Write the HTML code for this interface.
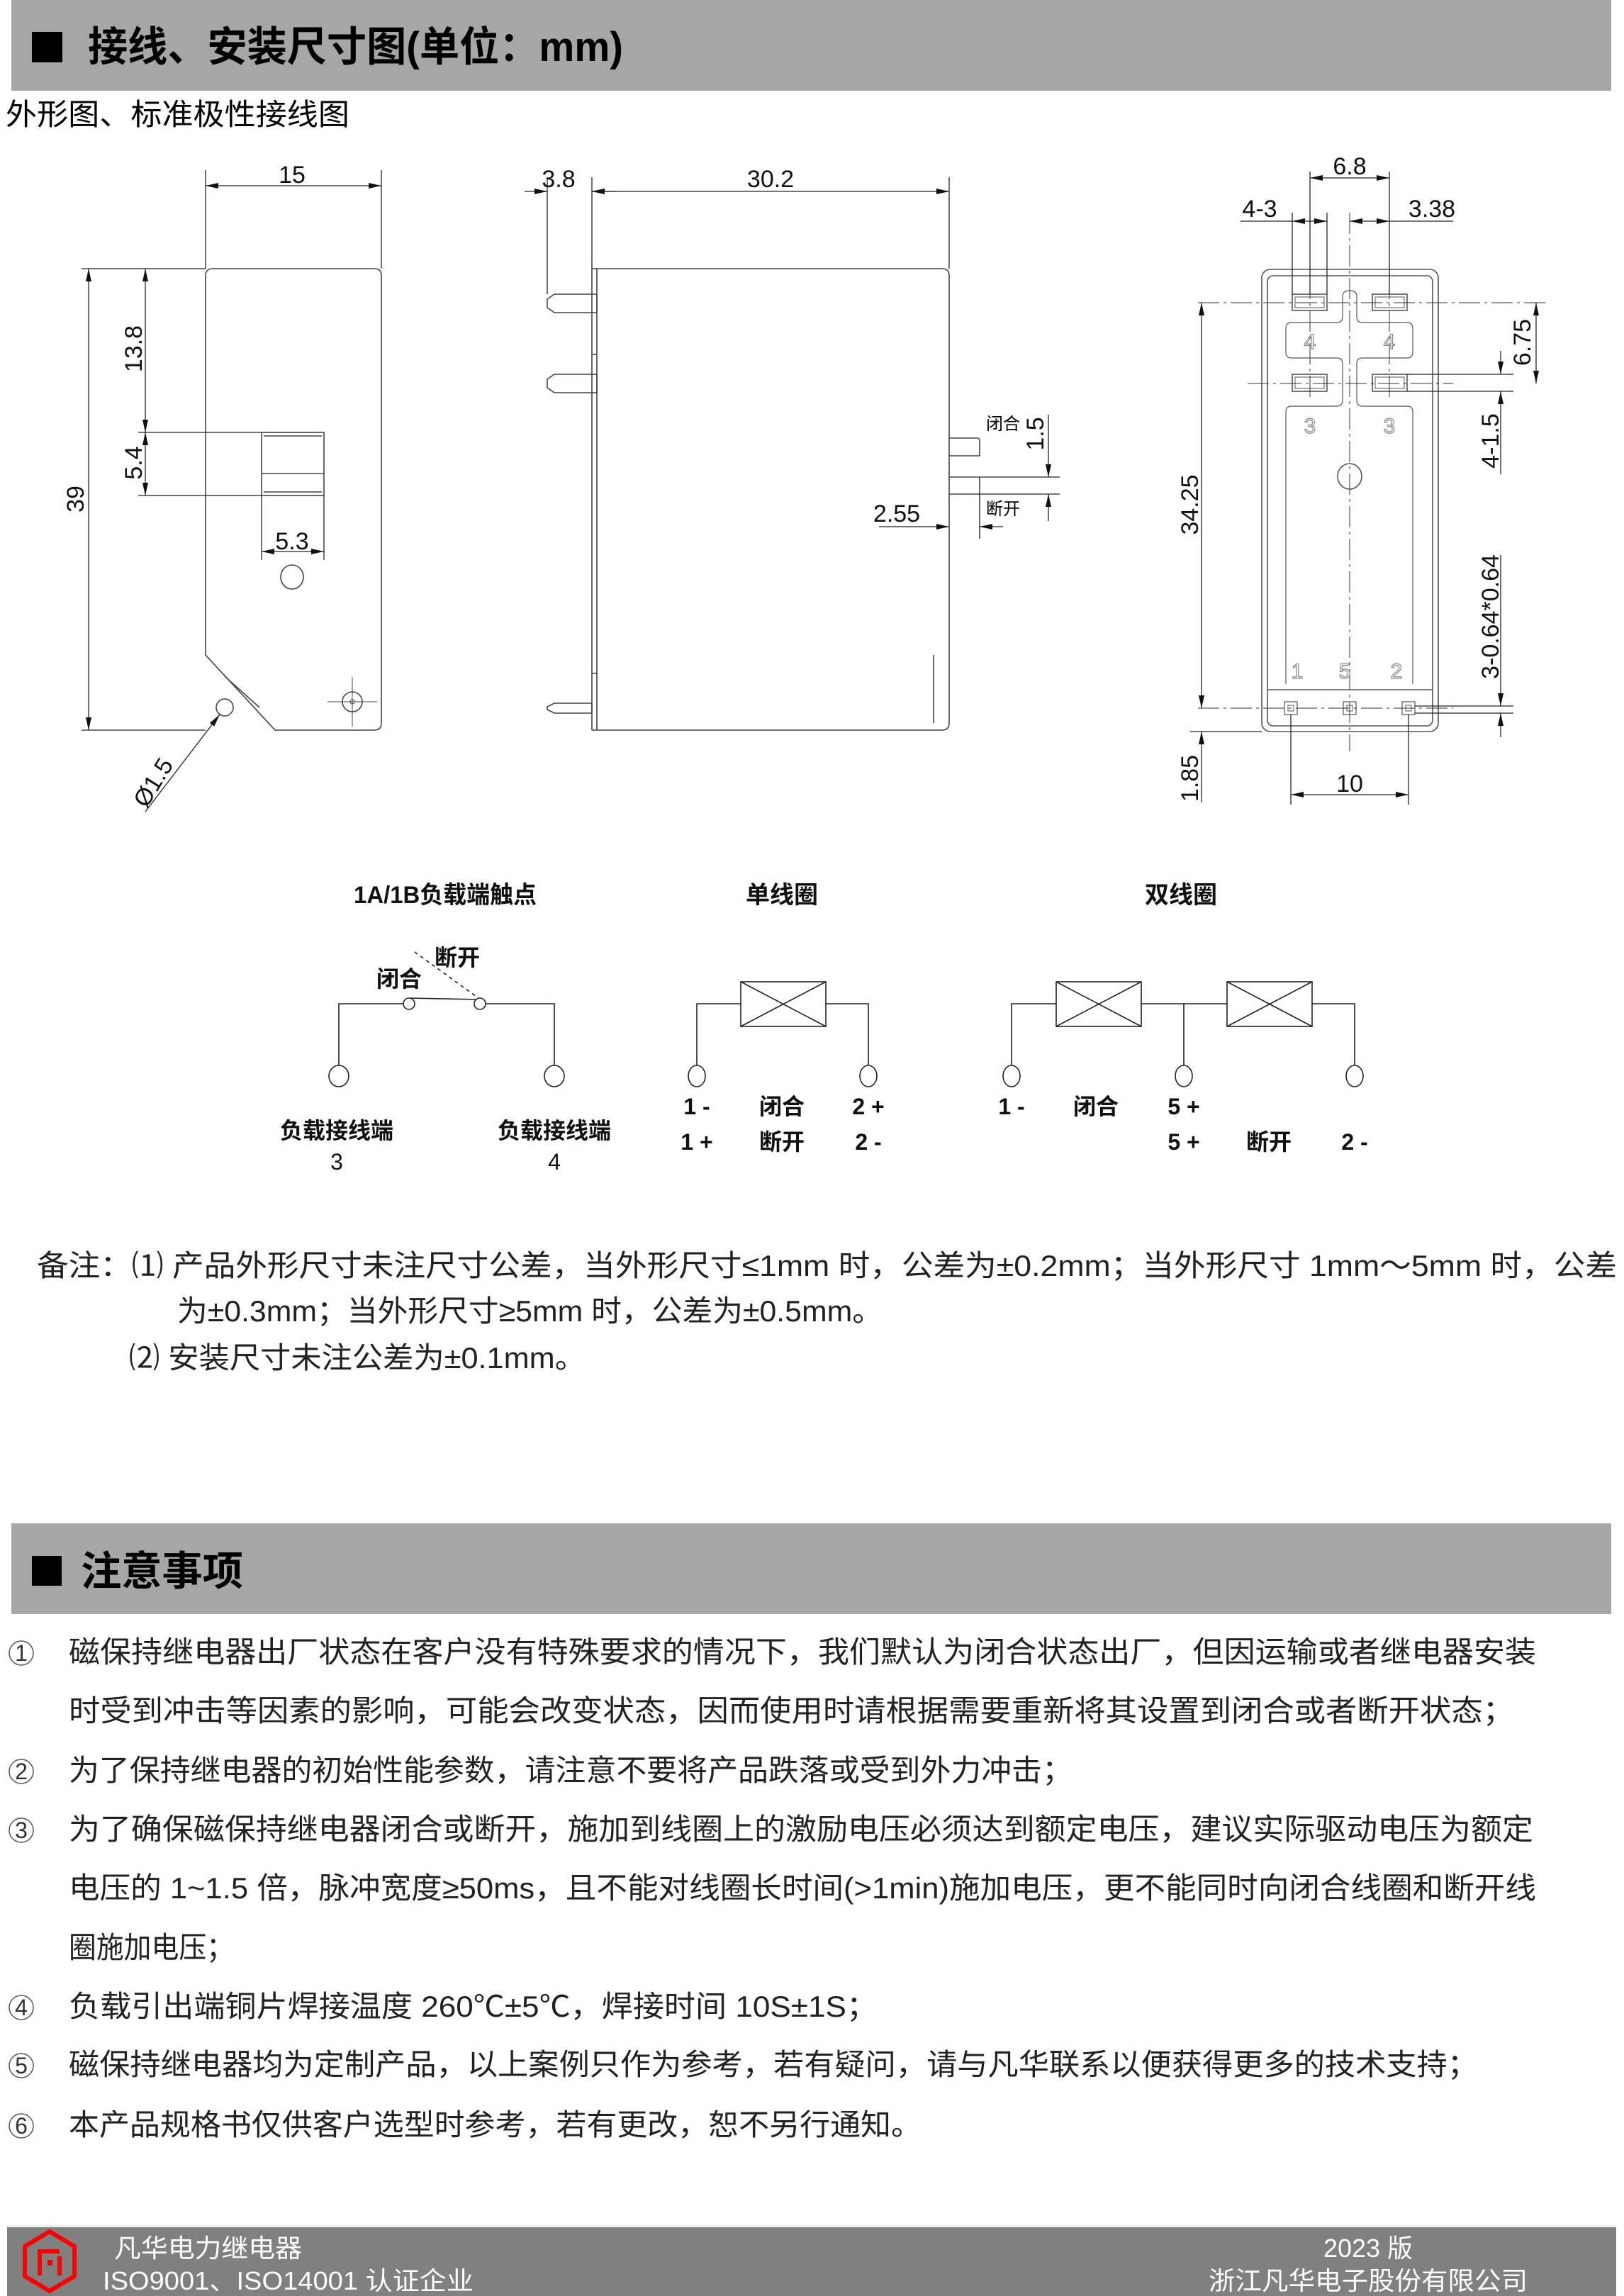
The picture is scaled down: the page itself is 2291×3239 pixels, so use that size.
<!DOCTYPE html>
<html><head><meta charset="utf-8">
<style>
html,body{margin:0;padding:0;background:#fff;}
svg{display:block;}
.cn{font-family:"Liberation Sans","Noto Sans CJK SC",sans-serif;}
.d{font-family:"Liberation Sans",sans-serif;font-size:34px;fill:#111;}
</style></head>
<body>
<svg width="2291" height="3239" viewBox="0 0 2291 3239" xmlns="http://www.w3.org/2000/svg">
<defs>
<marker id="a" viewBox="0 0 18 8" refX="18" refY="4" markerWidth="18" markerHeight="8" markerUnits="userSpaceOnUse" orient="auto-start-reverse"><path d="M0,0 L18,4 L0,8 z" fill="#111"/></marker>
</defs>

<!-- header 1 -->
<rect x="16" y="0" width="2257" height="128" fill="#a6a6a6"/>
<rect x="45" y="45" width="43" height="43" fill="#000"/>
<text x="124" y="86" class="cn" font-size="58" font-weight="bold" fill="#000" textLength="755" lengthAdjust="spacingAndGlyphs">接线、安装尺寸图(单位：mm)</text>
<text x="8" y="176" class="cn" font-size="42" fill="#000" textLength="485" lengthAdjust="spacingAndGlyphs">外形图、标准极性接线图</text>

<g stroke="#444" stroke-width="1.6" fill="none">
<!-- FRONT VIEW -->
<path d="M300,379 H528 Q538,379 538,389 V1020 Q538,1030 528,1030 H388 L290,924 V389 Q290,379 300,379 Z"/>
<line x1="317" y1="954" x2="366" y2="998"/>
<rect x="369" y="610" width="88" height="89"/>
<line x1="372" y1="615" x2="454" y2="615"/>
<line x1="369" y1="668" x2="457" y2="668"/>
<line x1="372" y1="694" x2="454" y2="694"/>
<ellipse cx="412" cy="814" rx="16" ry="17"/>
<circle cx="317" cy="998" r="12"/>
<circle cx="497" cy="990" r="14"/>
<line x1="462" y1="990" x2="532" y2="990" stroke-width="1"/>
<line x1="497" y1="955" x2="497" y2="1025" stroke-width="1"/>
<circle cx="497" cy="990" r="3" stroke-width="1"/>
</g>
<g stroke="#222" stroke-width="1.3" fill="none">
<line x1="290" y1="240" x2="290" y2="379"/><line x1="538" y1="240" x2="538" y2="379"/>
<line x1="290" y1="262" x2="538" y2="262" marker-start="url(#a)" marker-end="url(#a)"/>
<line x1="115" y1="379" x2="290" y2="379"/><line x1="115" y1="1030" x2="290" y2="1030"/>
<line x1="125" y1="379" x2="125" y2="1030" marker-start="url(#a)" marker-end="url(#a)"/>
<line x1="205" y1="379" x2="205" y2="610" marker-start="url(#a)" marker-end="url(#a)"/>
<line x1="195" y1="610" x2="369" y2="610"/><line x1="195" y1="699" x2="369" y2="699"/>
<line x1="205" y1="610" x2="205" y2="699" marker-start="url(#a)" marker-end="url(#a)"/>
<line x1="369" y1="699" x2="369" y2="790"/><line x1="457" y1="699" x2="457" y2="790"/>
<line x1="369" y1="778" x2="457" y2="778" marker-start="url(#a)" marker-end="url(#a)"/>
<line x1="205" y1="1145" x2="310" y2="1008" marker-end="url(#a)"/>
</g>
<text x="412" y="258" class="d" text-anchor="middle">15</text>
<text transform="translate(118,704) rotate(-90)" class="d" text-anchor="middle">39</text>
<text transform="translate(200,492) rotate(-90)" class="d" text-anchor="middle">13.8</text>
<text transform="translate(200,653) rotate(-90)" class="d" text-anchor="middle">5.4</text>
<text x="412" y="775" class="d" text-anchor="middle">5.3</text>
<text transform="translate(226,1110) rotate(-58)" class="d" text-anchor="middle">Ø1.5</text>

<!-- SIDE VIEW -->
<g stroke="#444" stroke-width="1.6" fill="none">
<path d="M842,379 H1329 Q1339,379 1339,389 V1020 Q1339,1030 1329,1030 H835"/>
<path d="M835,365 V1030"/>
<path d="M835,379 H842 V500 H835 M842,500 V1030 M835,950 H842"/>
<polygon points="782,415 842,415 842,441 782,441 772,434 772,422"/>
<polygon points="782,528 842,528 842,554 782,554 772,547 772,535"/>
<polygon points="782,992 835,992 835,1006 782,1006 772,1001 772,997"/>
<line x1="1317" y1="924" x2="1317" y2="1020"/>
<path d="M1339,618 H1378 Q1382,618 1382,622 V643 H1339"/>
<path d="M1339,673 H1382 V697 H1339 M1382,697 V760"/>
</g>
<g stroke="#222" stroke-width="1.3" fill="none">
<line x1="772" y1="250" x2="772" y2="415"/><line x1="835" y1="250" x2="835" y2="365"/><line x1="1339" y1="250" x2="1339" y2="379"/>
<line x1="740" y1="270" x2="772" y2="270" marker-end="url(#a)"/>
<line x1="870" y1="270" x2="835" y2="270" marker-end="url(#a)"/>
<line x1="835" y1="270" x2="1339" y2="270" marker-start="url(#a)" marker-end="url(#a)"/>
<line x1="1382" y1="673" x2="1495" y2="673"/><line x1="1382" y1="697" x2="1495" y2="697"/>
<line x1="1479" y1="585" x2="1479" y2="673" marker-end="url(#a)"/>
<line x1="1479" y1="735" x2="1479" y2="697" marker-end="url(#a)"/>
<line x1="1240" y1="743" x2="1339" y2="743" marker-end="url(#a)"/>
<line x1="1415" y1="743" x2="1382" y2="743" marker-end="url(#a)"/>
</g>
<text x="788" y="264" class="d" text-anchor="middle">3.8</text>
<text x="1087" y="264" class="d" text-anchor="middle">30.2</text>
<text x="1265" y="736" class="d" text-anchor="middle">2.55</text>
<text transform="translate(1472,612) rotate(-90)" class="d" text-anchor="middle">1.5</text>
<text x="1415" y="606" class="cn" font-size="24" text-anchor="middle">闭合</text>
<text x="1415" y="726" class="cn" font-size="24" text-anchor="middle">断开</text>

<!-- BOTTOM VIEW -->
<g stroke="#555" stroke-width="1.6" fill="none">
<rect x="1780" y="380" width="249" height="652" rx="12"/>
<rect x="1788" y="389" width="233" height="635" rx="8"/>
<rect x="1823" y="415" width="49" height="23"/><rect x="1827" y="419" width="41" height="15" stroke-width="1"/>
<rect x="1936" y="415" width="49" height="23"/><rect x="1940" y="419" width="41" height="15" stroke-width="1"/>
<rect x="1823" y="528" width="49" height="24"/><rect x="1827" y="532" width="41" height="16" stroke-width="1"/>
<rect x="1936" y="528" width="49" height="24"/><rect x="1940" y="532" width="41" height="16" stroke-width="1"/>
<path d="M1894,447 V418 Q1894,410 1904,410 Q1914,410 1914,418 V447 Q1914,455 1922,455 H1985 Q1993,455 1993,463 V497 Q1993,505 1985,505 H1922 Q1914,505 1914,513 V565 Q1914,573 1922,573 H1985 Q1993,573 1993,581 V965 M1814,965 V581 Q1814,573 1822,573 H1886 Q1894,573 1894,565 V513 Q1894,505 1886,505 H1822 Q1814,505 1814,497 V463 Q1814,455 1822,455 H1886 Q1894,455 1894,447" stroke-width="1.2"/>
<line x1="1788" y1="973" x2="2021" y2="973"/>
<ellipse cx="1904" cy="672" rx="17" ry="18"/>
<rect x="1812" y="990" width="18" height="18" stroke-width="1.2"/><rect x="1817" y="995" width="8" height="8" stroke-width="1"/>
<rect x="1895" y="990" width="18" height="18" stroke-width="1.2"/><rect x="1900" y="995" width="8" height="8" stroke-width="1"/>
<rect x="1978" y="990" width="18" height="18" stroke-width="1.2"/><rect x="1983" y="995" width="8" height="8" stroke-width="1"/>
</g>
<g stroke="#333" stroke-width="1" fill="none" stroke-dasharray="30,6,4,6">
<line x1="1904" y1="300" x2="1904" y2="1060"/>
<line x1="1848" y1="300" x2="1848" y2="560"/><line x1="1960" y1="300" x2="1960" y2="560"/>
<line x1="1690" y1="427" x2="2180" y2="427"/>
<line x1="1760" y1="541" x2="2050" y2="541"/>
<line x1="1690" y1="999" x2="2050" y2="999"/>
</g>
<g font-family="Liberation Sans,sans-serif" font-size="30" fill="none" stroke="#888" stroke-width="1.2" text-anchor="middle">
<text x="1848" y="492">4</text><text x="1960" y="492">4</text>
<text x="1848" y="611">3</text><text x="1960" y="611">3</text>
<text x="1830" y="957">1</text><text x="1897" y="957">5</text><text x="1970" y="957">2</text>
</g>
<g stroke="#222" stroke-width="1.3" fill="none">
<line x1="1848" y1="242" x2="1848" y2="415"/><line x1="1960" y1="242" x2="1960" y2="415"/>
<line x1="1823" y1="300" x2="1823" y2="415"/><line x1="1872" y1="300" x2="1872" y2="415"/>
<line x1="1848" y1="251" x2="1960" y2="251" marker-start="url(#a)" marker-end="url(#a)"/>
<line x1="1750" y1="312" x2="1823" y2="312"/>
<line x1="1823" y1="312" x2="1872" y2="312" marker-start="url(#a)" marker-end="url(#a)"/>
<line x1="1904" y1="312" x2="1960" y2="312" marker-start="url(#a)" marker-end="url(#a)"/>
<line x1="1960" y1="312" x2="2050" y2="312"/>
<line x1="1695" y1="427" x2="1695" y2="999" marker-start="url(#a)" marker-end="url(#a)"/>
<line x1="1679" y1="1032" x2="1780" y2="1032"/>
<line x1="1695" y1="1132" x2="1695" y2="1032" marker-end="url(#a)"/>
<line x1="1821" y1="1008" x2="1821" y2="1135"/><line x1="1987" y1="1008" x2="1987" y2="1135"/>
<line x1="1821" y1="1121" x2="1987" y2="1121" marker-start="url(#a)" marker-end="url(#a)"/>
<line x1="2167" y1="427" x2="2167" y2="541" marker-start="url(#a)" marker-end="url(#a)"/>
<line x1="1985" y1="528" x2="2135" y2="528"/><line x1="1985" y1="552" x2="2135" y2="552"/>
<line x1="2117" y1="495" x2="2117" y2="528" marker-end="url(#a)"/>
<line x1="2117" y1="669" x2="2117" y2="552" marker-end="url(#a)"/>
<line x1="1996" y1="996" x2="2135" y2="996"/><line x1="1996" y1="1006" x2="2135" y2="1006"/>
<line x1="2117" y1="783" x2="2117" y2="996" marker-end="url(#a)"/>
<line x1="2117" y1="1040" x2="2117" y2="1006" marker-end="url(#a)"/>
</g>
<text x="1904" y="246" class="d" text-anchor="middle">6.8</text>
<text x="1777" y="306" class="d" text-anchor="middle">4-3</text>
<text x="2020" y="306" class="d" text-anchor="middle">3.38</text>
<text transform="translate(1690,712) rotate(-90)" class="d" text-anchor="middle">34.25</text>
<text transform="translate(1690,1098) rotate(-90)" class="d" text-anchor="middle">1.85</text>
<text x="1904" y="1117" class="d" text-anchor="middle">10</text>
<text transform="translate(2159,483) rotate(-90)" class="d" text-anchor="middle">6.75</text>
<text transform="translate(2114,622) rotate(-90)" class="d" text-anchor="middle">4-1.5</text>
<text transform="translate(2114,870) rotate(-90)" class="d" text-anchor="middle">3-0.64*0.64</text>

<!-- SCHEMATICS -->
<g class="cn" font-size="34" font-weight="bold" fill="#111" text-anchor="middle">
<text x="628" y="1274" textLength="258" lengthAdjust="spacingAndGlyphs">1A/1B负载端触点</text>
<text x="1103" y="1274">单线圈</text>
<text x="1666" y="1274">双线圈</text>
</g>
<g stroke="#222" stroke-width="1.6" fill="#fff">
<polyline points="478,1503 478,1416 569,1416" fill="none"/>
<polyline points="685,1416 782,1416 782,1503" fill="none"/>
<line x1="577" y1="1408" x2="677" y2="1410"/>
<line x1="585" y1="1343" x2="675" y2="1408" stroke-dasharray="5,5"/>
<circle cx="577" cy="1416" r="8"/><circle cx="677" cy="1416" r="8"/>
<ellipse cx="478" cy="1518" rx="14" ry="15"/><ellipse cx="782" cy="1518" rx="14" ry="15"/>
<polyline points="983,1503 983,1416 1045,1416" fill="none"/>
<polyline points="1165,1416 1225,1416 1225,1503" fill="none"/>
<rect x="1045" y="1385" width="120" height="63"/>
<line x1="1045" y1="1385" x2="1165" y2="1448"/><line x1="1165" y1="1385" x2="1045" y2="1448"/>
<ellipse cx="983" cy="1518" rx="12" ry="15"/><ellipse cx="1225" cy="1518" rx="12" ry="15"/>
<polyline points="1427,1503 1427,1416 1490,1416" fill="none"/>
<line x1="1610" y1="1416" x2="1731" y2="1416"/>
<line x1="1670" y1="1416" x2="1670" y2="1503"/>
<polyline points="1851,1416 1911,1416 1911,1503" fill="none"/>
<rect x="1490" y="1385" width="120" height="63"/>
<line x1="1490" y1="1385" x2="1610" y2="1448"/><line x1="1610" y1="1385" x2="1490" y2="1448"/>
<rect x="1731" y="1385" width="120" height="63"/>
<line x1="1731" y1="1385" x2="1851" y2="1448"/><line x1="1851" y1="1385" x2="1731" y2="1448"/>
<ellipse cx="1427" cy="1518" rx="12" ry="15"/><ellipse cx="1670" cy="1518" rx="12" ry="15"/><ellipse cx="1911" cy="1518" rx="12" ry="15"/>
</g>
<g class="cn" font-size="32" font-weight="bold" fill="#111" text-anchor="middle">
<text x="645" y="1362">断开</text>
<text x="563" y="1392">闭合</text>
<text x="475" y="1606">负载接线端</text>
<text x="782" y="1606">负载接线端</text>
<text x="475" y="1650" font-weight="normal">3</text>
<text x="782" y="1650" font-weight="normal">4</text>
<text x="983" y="1572">1 -</text><text x="1103" y="1572">闭合</text><text x="1225" y="1572">2 +</text>
<text x="983" y="1622">1 +</text><text x="1103" y="1622">断开</text><text x="1225" y="1622">2 -</text>
<text x="1427" y="1572">1 -</text><text x="1546" y="1572">闭合</text><text x="1670" y="1572">5 +</text>
<text x="1670" y="1622">5 +</text><text x="1790" y="1622">断开</text><text x="1911" y="1622">2 -</text>
</g>

<!-- NOTES -->
<g class="cn" font-size="42" fill="#222">
<text x="52" y="1800" textLength="2229" lengthAdjust="spacingAndGlyphs">备注：⑴ 产品外形尺寸未注尺寸公差，当外形尺寸≤1mm 时，公差为±0.2mm；当外形尺寸 1mm～5mm 时，公差</text>
<text x="250" y="1864" textLength="995" lengthAdjust="spacingAndGlyphs">为±0.3mm；当外形尺寸≥5mm 时，公差为±0.5mm。</text>
<text x="182" y="1930" textLength="644" lengthAdjust="spacingAndGlyphs">⑵ 安装尺寸未注公差为±0.1mm。</text>
</g>

<!-- header 2 -->
<rect x="16" y="2149" width="2257" height="128" fill="#a6a6a6"/>
<rect x="45" y="2195" width="42" height="42" fill="#000"/>
<text x="114" y="2236" class="cn" font-size="57" font-weight="bold" fill="#000" textLength="229" lengthAdjust="spacingAndGlyphs">注意事项</text>

<g class="cn" font-size="42" fill="#222">
<g font-size="32" text-anchor="middle" fill="#333">
<circle cx="30" cy="2332" r="17" fill="none" stroke="#555" stroke-width="1.5"/><text x="30" y="2343">1</text>
<circle cx="30" cy="2499" r="17" fill="none" stroke="#555" stroke-width="1.5"/><text x="30" y="2510">2</text>
<circle cx="30" cy="2582" r="17" fill="none" stroke="#555" stroke-width="1.5"/><text x="30" y="2593">3</text>
<circle cx="30" cy="2832" r="17" fill="none" stroke="#555" stroke-width="1.5"/><text x="30" y="2843">4</text>
<circle cx="30" cy="2914" r="17" fill="none" stroke="#555" stroke-width="1.5"/><text x="30" y="2925">5</text>
<circle cx="30" cy="2999" r="17" fill="none" stroke="#555" stroke-width="1.5"/><text x="30" y="3010">6</text>
</g>
<text x="97" y="2345" textLength="2070" lengthAdjust="spacingAndGlyphs">磁保持继电器出厂状态在客户没有特殊要求的情况下，我们默认为闭合状态出厂，但因运输或者继电器安装</text>
<text x="97" y="2428" textLength="2039" lengthAdjust="spacingAndGlyphs">时受到冲击等因素的影响，可能会改变状态，因而使用时请根据需要重新将其设置到闭合或者断开状态；</text>
<text x="97" y="2512" textLength="1416" lengthAdjust="spacingAndGlyphs">为了保持继电器的初始性能参数，请注意不要将产品跌落或受到外力冲击；</text>
<text x="97" y="2595" textLength="2066" lengthAdjust="spacingAndGlyphs">为了确保磁保持继电器闭合或断开，施加到线圈上的激励电压必须达到额定电压，建议实际驱动电压为额定</text>
<text x="97" y="2678" textLength="2070" lengthAdjust="spacingAndGlyphs">电压的 1~1.5 倍，脉冲宽度≥50ms，且不能对线圈长时间(&gt;1min)施加电压，更不能同时向闭合线圈和断开线</text>
<text x="97" y="2762" textLength="233" lengthAdjust="spacingAndGlyphs">圈施加电压；</text>
<text x="97" y="2845" textLength="1141" lengthAdjust="spacingAndGlyphs">负载引出端铜片焊接温度 260℃±5℃，焊接时间 10S±1S；</text>
<text x="97" y="2927" textLength="1988" lengthAdjust="spacingAndGlyphs">磁保持继电器均为定制产品，以上案例只作为参考，若有疑问，请与凡华联系以便获得更多的技术支持；</text>
<text x="97" y="3012" textLength="1203" lengthAdjust="spacingAndGlyphs">本产品规格书仅供客户选型时参考，若有更改，恕不另行通知。</text>
</g>

<!-- FOOTER -->
<line x1="10" y1="3140" x2="2280" y2="3140" stroke="#eee" stroke-width="2"/>
<rect x="10" y="3142" width="2270" height="97" fill="#808080"/>
<polygon points="70,3148 105,3169 105,3211 70,3232 35,3211 35,3169" fill="none" stroke="#f00" stroke-width="6"/>
<path d="M56,3210 V3176 H84 M84,3183 V3210" fill="none" stroke="#f00" stroke-width="6"/>
<rect x="67" y="3188" width="7" height="8" fill="#f00"/>
<g class="cn" fill="#fff" font-size="36">
<text x="161" y="3184" textLength="265" lengthAdjust="spacingAndGlyphs">凡华电力继电器</text>
<text x="145" y="3230" textLength="523" lengthAdjust="spacingAndGlyphs">ISO9001、ISO14001 认证企业</text>
<text x="1930" y="3184" text-anchor="middle">2023 版</text>
<text x="1930" y="3230" text-anchor="middle" textLength="450" lengthAdjust="spacingAndGlyphs">浙江凡华电子股份有限公司</text>
</g>
</svg>
</body></html>
